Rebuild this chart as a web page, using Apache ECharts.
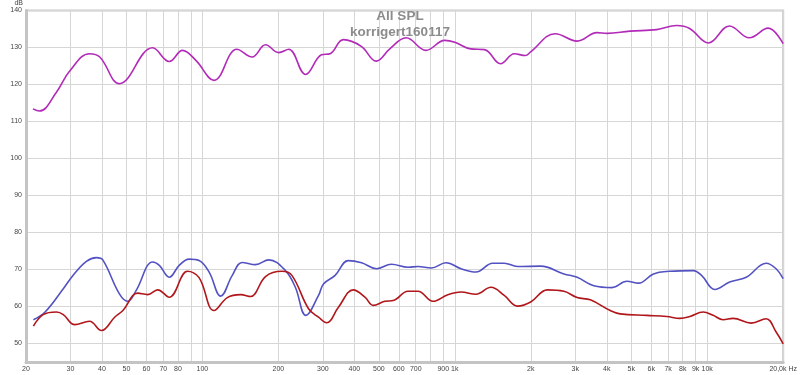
<!DOCTYPE html>
<html><head><meta charset="utf-8">
<script src="https://cdn.jsdelivr.net/npm/echarts@6/dist/echarts.min.js"></script>
<style>html,body{margin:0;padding:0;background:#fff}#c{width:800px;height:375px}</style>
</head><body><div id="c"></div>
<script>
var xTicks = [20,30,40,50,60,70,80,90,100,200,300,400,500,600,700,800,900,1000,2000,3000,4000,5000,6000,7000,8000,9000,10000,20000];
var xLabels = [20,30,40,50,60,70,80,100,200,300,400,500,600,700,900,1000,2000,3000,4000,5000,6000,7000,8000,9000,10000,20000];
var yTicks = [50,60,70,80,90,100,110,120,130,140];

var magFreq = [21.3,22.6,26.4,29.8,35.7,39.2,46.9,63.5,73.9,83.4,94.2,111.2,137,157.4,177.8,200.6,219.7,256.3,296.3,320.7,361.9,425.9,488,554,641,768,912,1000,1156,1312,1517,1722,1905,1991,2500,3053,3660,4010,4941,6308,7570,8515,10110,12250,14690,17420,20000];
var magVal  = [113.4,112.8,117.9,123.6,128.3,127.4,120.2,129.9,126.2,129.2,126.5,121.1,129.5,127.4,130.7,128.6,129.5,122.7,128,128.3,132.1,130.3,126.3,129.7,132.6,129.2,131.9,131.4,129.6,129.4,125.6,128.3,127.8,128.7,133.7,131.7,134,133.8,134.4,134.8,135.9,135.1,131.2,135.8,132.6,135.2,131];

var blueFreq = [21.4,23.8,28.1,30.7,34.7,38,40.3,46.9,50.6,54.6,63.5,67.5,73.9,80.9,88.6,97,106.3,118.2,131.3,143.7,162.4,183.2,213.3,233.4,257,288.4,301.8,335.5,378.5,427.2,489.5,560.8,652.6,714.5,806,923.8,1059,1213,1412,1570,1771,2188,2706,3054,3554,4195,4806,5346,6124,7118,8806,9496,10714,12274,14284,17122,18752,20000];
var blueVal  = [56.4,58.5,64.8,68.4,72.2,73.2,72.6,63.4,61.4,64.3,72,71.1,67.9,71.1,72.8,72.4,69.3,62.8,68.4,71.9,71.3,72.6,69.7,65.2,57.6,63,66.1,68.4,72.4,71.8,70.2,71.4,70.6,70.8,70.4,71.8,70.2,69.3,71.7,71.7,70.8,70.9,68.8,67.9,65.6,65.1,66.8,66.3,68.8,69.5,69.7,68.4,64.6,66.6,67.9,71.7,70.2,67.5];

var redFreq = [21.4,23.4,26.4,28.1,31.2,35.7,39.8,44.9,48.4,55.4,60.7,66.5,73.9,87.3,97,111.2,125.5,141.7,155.1,177.8,206.6,226.2,263.3,288.4,310.9,345.8,396.2,440.6,475,528.2,569.7,652.6,714.5,819,938.6,1059,1213,1390,1570,1771,1998,2326,2706,3054,3444,4130,4522,5764,6910,7798,8538,9642,10558,11560,12658,14950,17122,18752,20000];
var redVal  = [54.7,57.8,58.5,57.8,55.1,56,53.5,57.1,58.9,63.6,63.2,64.5,62.5,69.5,67.8,58.9,62.4,63.2,62.7,68.1,69.5,68.4,59.4,57.1,55.6,59.8,64.5,62.5,60.3,61.4,61.6,64.1,64.1,61.4,63.2,63.9,63.3,65.2,63,60.1,61.2,64.5,64.1,62.4,61.8,58.9,58,57.6,57.3,56.8,57.3,58.5,57.6,56.4,56.8,55.5,56.7,53.1,49.9];

function pairs(f, v){ return f.map(function(x,i){ return [x, v[i]]; }); }
function fmt(v){
  v = Math.round(v);
  if (v === 20000) return '20,0k Hz';
  if (v >= 1000) return (v/1000) + 'k';
  return String(v);
}
var FONT = 'Liberation Sans, Arial, sans-serif';
var chart = echarts.init(document.getElementById('c'), null, {renderer:'canvas'});
chart.setOption({
  animation:false,
  backgroundColor:'#fff',
  title:{text:'All SPL\nkorrigert160117', left:'center', top:3,
    textStyle:{fontSize:13.5, fontWeight:'bold', color:'#8c8c8c', lineHeight:16, fontFamily:FONT}},
  grid:{left:26, right:13, top:10, bottom:13, show:true, borderColor:'#c8c8c8', borderWidth:2},
  xAxis:{type:'log', logBase:10, min:20, max:20000,
    axisLine:{show:true, lineStyle:{color:'#c4c4c4', width:3}},
    axisTick:{show:false, customValues:xTicks},
    axisLabel:{customValues:xLabels, formatter:fmt, fontSize:7, color:'#444', margin:4, fontFamily:FONT, hideOverlap:false},
    splitLine:{show:true, lineStyle:{color:'#d6d6d6', width:1}}},
  yAxis:{type:'value', min:45, max:140,
    name:'dB', nameLocation:'end', nameGap:2, nameTextStyle:{fontSize:7, color:'#444', align:'right', padding:[0,3,0,0], fontFamily:FONT},
    axisLine:{show:true, lineStyle:{color:'#c4c4c4', width:3}},
    axisTick:{show:false, customValues:yTicks},
    axisLabel:{customValues:yTicks, fontSize:7, color:'#444', margin:4, fontFamily:FONT},
    splitLine:{show:true, lineStyle:{color:'#d6d6d6', width:1}}},
  series:[
    {type:'line', data:pairs(magFreq, magVal), smooth:0.4, symbol:'none', lineStyle:{color:'#b22ab8', width:1.6}},
    {type:'line', data:pairs(blueFreq, blueVal), smooth:0.4, symbol:'none', lineStyle:{color:'#5352c2', width:1.6}},
    {type:'line', data:pairs(redFreq, redVal), smooth:0.4, symbol:'none', lineStyle:{color:'#b0161a', width:1.6}}
  ]
});
</script></body></html>
